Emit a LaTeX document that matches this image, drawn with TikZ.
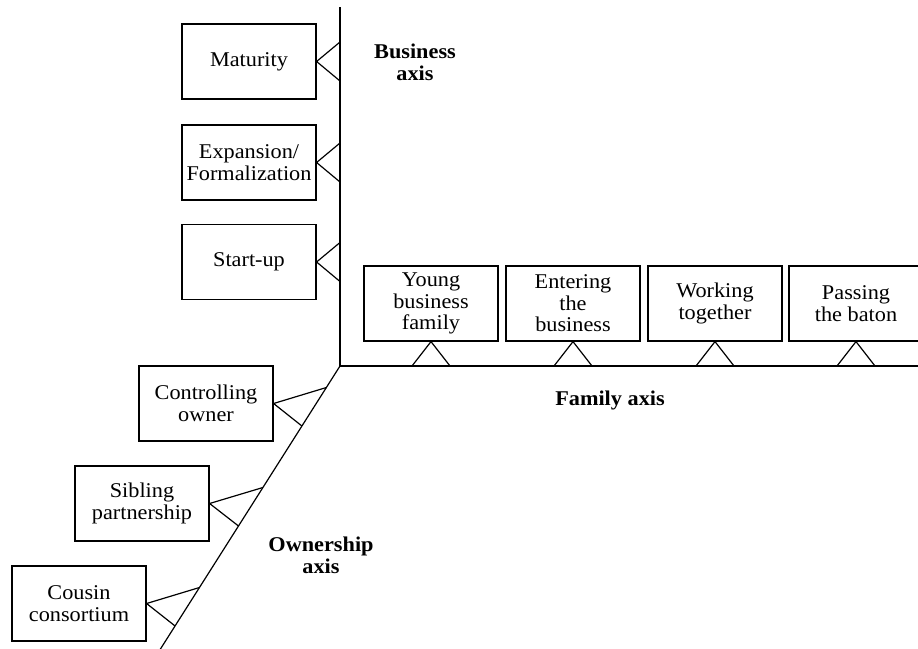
\documentclass[tikz,border=0pt]{standalone}
\usepackage{fontspec}
\setmainfont{Liberation Serif}[FakeStretch=1.06]
\begin{document}
\begin{tikzpicture}[x=1pt,y=-1pt,line width=1.2pt,
  stage/.style={draw, minimum width=134pt, minimum height=75pt, inner sep=0pt,
    align=center, font=\fontsize{21}{21.5}\selectfont},
  axlabel/.style={align=center, inner sep=0pt, anchor=base,
    font=\fontsize{21}{22}\selectfont\bfseries},
  leg/.style={line join=miter}]
\useasboundingbox (0,0) rectangle (918,648);
\clip (0,0) rectangle (918,648);
% axes
\coordinate (O) at (340,366);
\coordinate (Btop) at (340,7);
\coordinate (Fend) at (930,366);
\coordinate (Oend) at (159.8,650);
\draw (Btop) -- (O) -- (Fend);
\draw (O) -- (Oend);
% business axis
\node[stage] (mat) at (249,61.5) {Maturity};
\node[stage] (exp) at (249,162.5) {Expansion/\\Formalization};
\node[stage] (start) at (249,262) {Start-up};
\coordinate (mat1) at (340,42);   \coordinate (mat2) at (340,81);
\coordinate (exp1) at (340,143);  \coordinate (exp2) at (340,182);
\coordinate (sta1) at (340,242.5);\coordinate (sta2) at (340,281.5);
\draw[leg] (mat1) -- (mat.east) -- (mat2);
\draw[leg] (exp1) -- (exp.east) -- (exp2);
\draw[leg] (sta1) -- (start.east) -- (sta2);
% family axis
\node[stage] (young) at (431,303.5) {Young\\business\\family};
\node[stage] (enter) at (573,303.5) {Entering\\the\\business};
\node[stage] (work) at (715,303.5) {Working\\together};
\node[stage] (pass) at (856,303.5) {Passing\\the baton};
\coordinate (you1) at (412,366); \coordinate (you2) at (450,366);
\coordinate (ent1) at (554,366); \coordinate (ent2) at (592,366);
\coordinate (wor1) at (696,366); \coordinate (wor2) at (734,366);
\coordinate (pas1) at (837,366); \coordinate (pas2) at (875,366);
\draw[leg] (you1) -- (young.south) -- (you2);
\draw[leg] (ent1) -- (enter.south) -- (ent2);
\draw[leg] (wor1) -- (work.south) -- (wor2);
\draw[leg] (pas1) -- (pass.south) -- (pas2);
% ownership axis
\node[stage] (ctrl) at (206,403.5) {Controlling\\owner};
\node[stage] (sib) at (142,503.5) {Sibling\\partnership};
\node[stage] (cous) at (79,603.5) {Cousin\\consortium};
\coordinate (ctr1) at (326.4,387.5); \coordinate (ctr2) at (301.9,426);
\coordinate (sib1) at (262.9,487.5); \coordinate (sib2) at (238.5,526);
\coordinate (cou1) at (199.5,587.5); \coordinate (cou2) at (175.1,626);
\draw[leg] (ctr1) -- (ctrl.east) -- (ctr2);
\draw[leg] (sib1) -- (sib.east) -- (sib2);
\draw[leg] (cou1) -- (cous.east) -- (cou2);
% axis labels (base = baseline of the last line)
\node[axlabel] (blab) at (415,80) {Business\\axis};
\node[axlabel] (flab) at (610,405) {Family axis};
\node[axlabel] (olab) at (321,573) {Ownership\\axis};
\end{tikzpicture}
\end{document}
